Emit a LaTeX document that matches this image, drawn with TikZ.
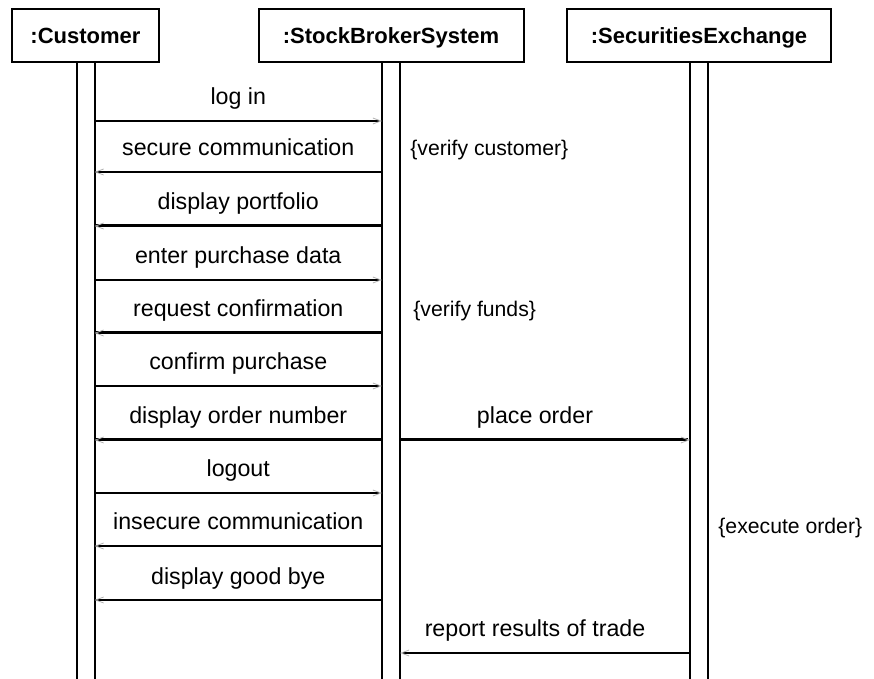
\documentclass[tikz,border=0pt]{standalone}
\usepackage{fontspec}
\setmainfont{Liberation Sans}
\usetikzlibrary{arrows.meta}

\tikzset{
  lifebox/.style={draw, line width=1pt, minimum height=26.5pt, inner sep=0pt,
    text height=0.9em, text depth=0.1em,
    font=\bfseries\fontsize{11}{13}\selectfont},
  bar/.style={line width=1pt},
  msg/.style={line width=0.7pt,
    -{Straight Barb[length=4pt,width=3pt,line width=0.4pt,color=gray!60]}},
  msgthick/.style={msg, line width=1.5pt},
  msgtext/.style={anchor=base, yshift=8pt, font=\fontsize{11.6}{13}\selectfont},
  note/.style={anchor=base west, inner sep=0pt, font=\fontsize{10.6}{12}\selectfont}
}

\begin{document}
\begin{tikzpicture}[x=0.5pt, y=-0.5pt]
        \useasboundingbox (0,0) rectangle (874,679);
        % objects
        \node[lifebox, minimum width=73.5pt] (cust) at (85.5,35.5) {:Customer};
        \node[lifebox, minimum width=132.5pt] (broker) at (391,35.5) {:StockBrokerSystem};
        \node[lifebox, minimum width=132pt] (exch) at (699,35.5) {:SecuritiesExchange};

        % lifelines
        \coordinate (bottom) at (0,679);
        \coordinate (cl) at ([xshift=-4.5pt]cust.south);
        \coordinate (cr) at ([xshift=4.5pt]cust.south);
        \coordinate (bl) at ([xshift=-4.5pt]broker.south);
        \coordinate (br) at ([xshift=4.5pt]broker.south);
        \coordinate (el) at ([xshift=-4.5pt]exch.south);
        \coordinate (er) at ([xshift=4.5pt]exch.south);
        \foreach \c in {cl,cr,bl,br,el,er}
            \draw[bar] (\c) -- (\c |- bottom);

        % message rows
        \foreach \y [count=\i] in {121,172,226,280,333,386,440,493,546,600,653}
            \coordinate (m\i) at (0,\y);

        \draw[msg] (cr |- m1) -- (bl |- m1) node[msgtext, midway] {log in};
        \draw[msg] (bl |- m2) -- (cr |- m2) node[msgtext, midway] {secure communication};
        \draw[msgthick] (bl |- m3) -- (cr |- m3) node[msgtext, midway] {display portfolio};
        \draw[msg] (cr |- m4) -- (bl |- m4) node[msgtext, midway] {enter purchase data};
        \draw[msgthick] (bl |- m5) -- (cr |- m5) node[msgtext, midway] {request confirmation};
        \draw[msg] (cr |- m6) -- (bl |- m6) node[msgtext, midway] {confirm purchase};
        \draw[msgthick] (bl |- m7) -- (cr |- m7) node[msgtext, midway] {display order number};
        \draw[msgthick] (br |- m7) -- (el |- m7) node[msgtext, midway, xshift=-5pt] {place order};
        \draw[msg] (cr |- m8) -- (bl |- m8) node[msgtext, midway] {logout};
        \draw[msg] (bl |- m9) -- (cr |- m9) node[msgtext, midway] {insecure communication};
        \draw[msg] (bl |- m10) -- (cr |- m10) node[msgtext, midway] {display good bye};
        \draw[msg] (el |- m11) -- (br |- m11) node[msgtext, midway, xshift=-5pt] {report results of trade};

        % constraints
        \node[note] (vcust) at (410,156) {\{verify customer\}};
        \node[note] (vfunds) at (413,317) {\{verify funds\}};
        \node[note] (exec) at (718,533) {\{execute order\}};
\end{tikzpicture}
\end{document}
